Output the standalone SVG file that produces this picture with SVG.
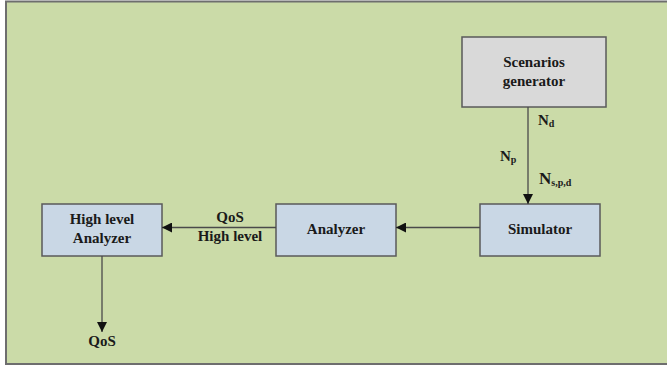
<svg xmlns="http://www.w3.org/2000/svg" width="667" height="367" viewBox="0 0 667 367">
  <defs>
    <marker id="arrow" viewBox="0 0 10 10" refX="10" refY="5" markerWidth="10" markerHeight="10" markerUnits="userSpaceOnUse" orient="auto">
      <path d="M0,0 L10,5 L0,10 Z" fill="#111"/>
    </marker>
  </defs>
  <style>
    .box { stroke: #5a5a5a; stroke-width: 1.5; }
    .blue { fill: #c9d7e5; }
    .gray { fill: #d9d9d9; }
    .lbl { font-family: "Liberation Serif", serif; font-weight: bold; font-size: 15px; fill: #1a1a1a; }
    .sub { font-size: 10px; }
    .big { font-size: 17px; }
    .link { stroke: #4a4a4a; stroke-width: 1.3; fill: none; marker-end: url(#arrow); }
  </style>
  <!-- page background -->
  <rect x="6" y="1.5" width="662" height="362.5" fill="#cbdba8" stroke="#6e6e6e" stroke-width="2"/>

  <g id="scenarios">
    <rect class="box gray" x="462" y="37" width="144" height="70"/>
    <text class="lbl" x="534" y="67" text-anchor="middle">Scenarios</text>
    <text class="lbl" x="534" y="86" text-anchor="middle">generator</text>
  </g>
  <g id="simulator">
    <rect class="box blue" x="480" y="204" width="120" height="52"/>
    <text class="lbl" x="540" y="234" text-anchor="middle">Simulator</text>
  </g>
  <g id="analyzer">
    <rect class="box blue" x="276" y="204" width="120" height="52"/>
    <text class="lbl" x="336" y="234" text-anchor="middle">Analyzer</text>
  </g>
  <g id="high-level-analyzer">
    <rect class="box blue" x="42" y="204" width="120" height="52"/>
    <text class="lbl" x="102" y="224" text-anchor="middle">High level</text>
    <text class="lbl" x="102" y="243" text-anchor="middle">Analyzer</text>
  </g>

  <g id="connectors">
    <line class="link" x1="528" y1="107" x2="528" y2="204"/>
    <line class="link" x1="480" y1="227.5" x2="396" y2="227.5"/>
    <line class="link" x1="276" y1="227.5" x2="162" y2="227.5"/>
    <line class="link" x1="102" y1="256" x2="102" y2="332"/>
    <text class="lbl" x="538" y="125">N<tspan class="sub" dy="2">d</tspan></text>
    <text class="lbl" x="500" y="161">N<tspan class="sub" dy="2">p</tspan></text>
    <text class="lbl big" x="539" y="184">N<tspan class="sub" dy="2">s,p,d</tspan></text>
    <text class="lbl" x="230" y="222" text-anchor="middle">QoS</text>
    <text class="lbl" x="230" y="241" text-anchor="middle">High level</text>
    <text class="lbl" x="102" y="346" text-anchor="middle">QoS</text>
  </g>
</svg>
